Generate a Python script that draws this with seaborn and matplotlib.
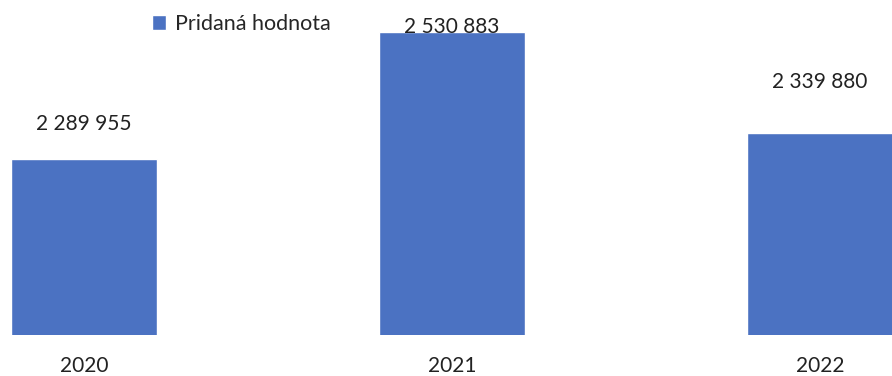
import matplotlib
matplotlib.use("Agg")
import matplotlib.pyplot as plt
import seaborn as sns
import pandas as pd

years = ["2020", "2021", "2022"]
values = [2289955, 2530883, 2339880]
series_name = "Pridaná hodnota"

# label vertical offsets above each bar top (points), as positioned in the source
label_offsets = [25.5, 4, 36.5]

sns.set_theme(style="white")
plt.rcParams["font.family"] = ["Lato", "DejaVu Sans"]

df = pd.DataFrame({"Rok": years, "Hodnota": values, "Séria": [series_name] * len(years)})

fig = plt.figure(figsize=(8.92, 3.76), dpi=100)
ax = fig.add_axes([0, 41 / 376, 1, 335 / 376])

color = "#4B72C2"
sns.barplot(data=df, x="Rok", y="Hodnota", hue="Séria", palette=[color],
            dodge=False, width=0.397, ax=ax, saturation=1)

ax.set_xlim(-0.228, 2.196)
ax.set_ylim(1954925, 2592430)
ax.set_xlabel("")
ax.set_ylabel("")
ax.set_yticks([])
for s in ax.spines.values():
    s.set_visible(False)
ax.tick_params(axis="x", length=0, pad=15, labelsize=15, colors="#222222")

for i, (v, off) in enumerate(zip(values, label_offsets)):
    ax.annotate(f"{v:,}".replace(",", " "), xy=(i, v), xytext=(0, off),
                textcoords="offset points", ha="center", va="center",
                fontsize=15, color="#222222", annotation_clip=False)

sns.move_legend(ax, "center left", bbox_to_anchor=(152 / 892, 1 - 24 / 335),
                frameon=False, title=None, fontsize=15.5,
                handlelength=0.65, handleheight=0.65, handletextpad=0.4,
                borderpad=0, borderaxespad=0)

fig.savefig("out.png", dpi=100)
